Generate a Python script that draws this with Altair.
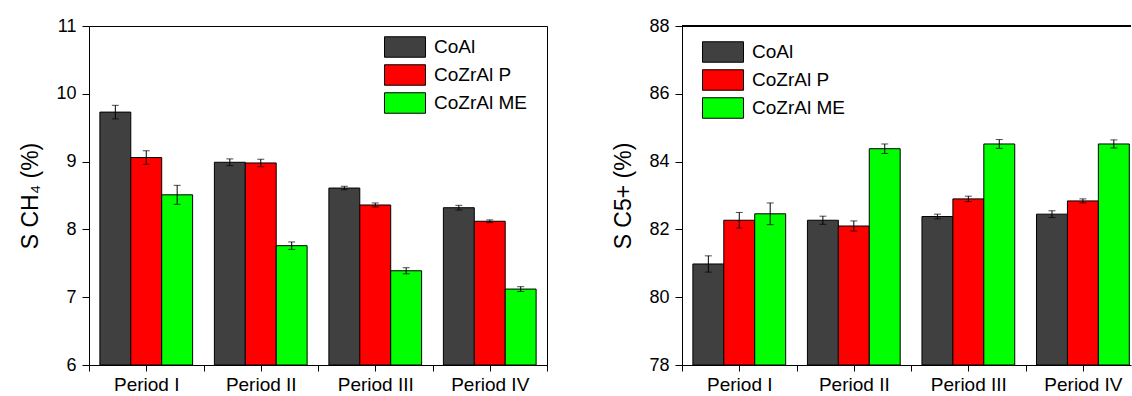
import altair as alt
import pandas as pd

periods = ["Period I", "Period II", "Period III", "Period IV"]
series = ["CoAl", "CoZrAl P", "CoZrAl ME"]
colors = ["#404040", "#ff0000", "#00ff00"]

ch4_coal = [9.73, 8.99, 8.61, 8.32]
ch4_p = [9.06, 8.98, 8.36, 8.12]
ch4_me = [8.51, 7.76, 7.39, 7.12]
ch4_coal_err = [0.10, 0.05, 0.025, 0.035]
ch4_p_err = [0.10, 0.055, 0.03, 0.02]
ch4_me_err = [0.14, 0.055, 0.045, 0.035]

c5_coal = [80.98, 82.27, 82.38, 82.45]
c5_p = [82.27, 82.10, 82.90, 82.84]
c5_me = [82.46, 84.38, 84.52, 84.52]
c5_coal_err = [0.24, 0.12, 0.07, 0.10]
c5_p_err = [0.23, 0.15, 0.08, 0.06]
c5_me_err = [0.32, 0.14, 0.13, 0.12]

FONT = "Liberation Sans"
BAR_STEP = 0.27
BAR_W = 0.27


def make_df(vals, errs):
    rows = []
    for si, (s, v, e) in enumerate(zip(series, vals, errs)):
        for pi in range(len(periods)):
            xc = pi + 1 + (si - 1) * BAR_STEP
            rows.append({
                "series": s, "value": v[pi], "err": e[pi],
                "xc": xc, "x0": xc - BAR_W / 2, "x1": xc + BAR_W / 2,
                "lo": v[pi] - e[pi], "hi": v[pi] + e[pi],
            })
    return pd.DataFrame(rows)


period_js = "[" + ",".join("'" + p + "'" for p in periods) + "]"


def panel(df, ydom, ystep, ymajor, ytitle, xdom, width, lx, ly, box):
    xvals = [0.5 + 0.25 * i for i in range(int((xdom[1] - 0.5) / 0.25) + 1)]
    yvals = []
    v = ydom[0]
    while v <= ydom[1] + 1e-9:
        yvals.append(round(v, 3))
        v += ystep
    xaxis = alt.Axis(
        values=xvals, title=None, grid=False, domainColor="black", tickColor="black",
        tickSize={"expr": "datum.value % 0.5 === 0 ? 6 : 3"},
        labelExpr=f"datum.value % 1 === 0 ? {period_js}[datum.value - 1] : ''",
        labelFont=FONT, labelFontSize=19, labelColor="black", labelPadding=4,
        labelFlush=False, labelOverlap=False,
    )
    yaxis = alt.Axis(
        values=yvals, title=ytitle, grid=False, domainColor="black", tickColor="black",
        tickSize={"expr": f"datum.value % {ymajor} === 0 ? 7 : 3.5"},
        labelExpr=f"datum.value % {ymajor} === 0 ? format(datum.value, 'd') : ''",
        labelFont=FONT, labelFontSize=18, labelColor="black", labelPadding=6,
        titleFont=FONT, titleFontSize=23, titleFontWeight="normal", titleColor="black",
        titlePadding=13, labelOverlap=False,
    )
    xs = alt.Scale(domain=xdom, nice=False, zero=False)
    ys = alt.Scale(domain=ydom, nice=False, zero=False)
    base = alt.Chart(df)
    bars = base.mark_bar(stroke="black", strokeWidth=1, clip=True).encode(
        x=alt.X("x0:Q", scale=xs, axis=xaxis),
        x2="x1:Q",
        y=alt.Y("value:Q", scale=ys, axis=yaxis),
        y2=alt.datum(ydom[0]),
        fill=alt.Fill(
            "series:N",
            scale=alt.Scale(domain=series, range=colors),
            legend=alt.Legend(
                orient="none", legendX=lx, legendY=ly, title=None,
                symbolType="M-2,-1H2V1H-2Z", symbolSize=420,
                symbolStrokeColor="black", symbolStrokeWidth=1, symbolOpacity=1,
                labelFont=FONT, labelFontSize=19, labelColor="black",
                labelOffset=18, rowPadding=2, padding=0,
            ),
        ),
    )
    rule = base.mark_rule(color="black", strokeWidth=1).encode(
        x="xc:Q", y="lo:Q", y2="hi:Q")
    cap_lo = base.mark_tick(orient="horizontal", color="black", size=7, thickness=1).encode(
        x="xc:Q", y="lo:Q")
    cap_hi = base.mark_tick(orient="horizontal", color="black", size=7, thickness=1).encode(
        x="xc:Q", y="hi:Q")
    layers = [bars, rule, cap_lo, cap_hi]
    if not box:
        top = alt.Chart(df).mark_rule(color="black", strokeWidth=1).encode(
            x=alt.value(0), x2=alt.value(width), y=alt.value(0))
        layers.append(top)
    ch = alt.layer(*layers).properties(
        width=width, height=339,
        view=alt.ViewBackground(stroke="black" if box else None, strokeWidth=1),
    )
    return ch


left = panel(make_df([ch4_coal, ch4_p, ch4_me], [ch4_coal_err, ch4_p_err, ch4_me_err]),
             [6, 11], 0.5, 1, "S CH₄ (%)", [0.5, 4.5], 458, 305, 10, True)
right = panel(make_df([c5_coal, c5_p, c5_me], [c5_coal_err, c5_p_err, c5_me_err]),
              [78, 88], 1, 2, "S C5+ (%)", [0.5, 4.42], 449, 30, 15, False)

chart = alt.hconcat(left, right, spacing=64).resolve_scale(
    fill="independent", x="independent", y="independent"
).resolve_legend(fill="independent").properties(
    padding={"left": 19, "top": 16, "right": 0, "bottom": 0},
    background="white",
)

chart.save("out.html", embed_options={"renderer": "svg", "actions": False})
